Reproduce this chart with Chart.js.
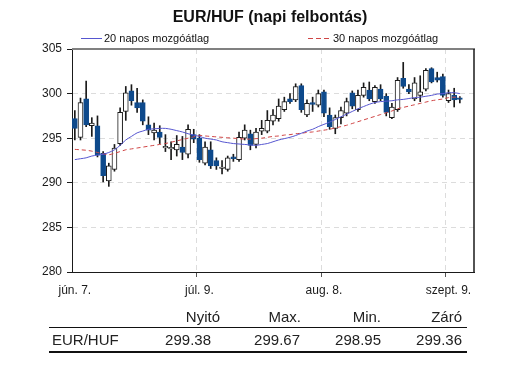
<!DOCTYPE html>
<html><head><meta charset="utf-8">
<script src="https://cdn.jsdelivr.net/npm/chart.js@4.4.1/dist/chart.umd.min.js"></script>
<style>
html,body{margin:0;padding:0;background:#fff;}
#wrap{position:relative;width:512px;height:382px;overflow:hidden;font-family:"Liberation Sans",Arial,sans-serif;color:#111;}
#c{position:absolute;left:0;top:0;}
.t{position:absolute;white-space:nowrap;}
</style></head><body>
<div id="wrap">
<canvas id="c" width="512" height="382"></canvas>
<div class="t" style="left:0;width:540px;top:8px;text-align:center;font-weight:bold;font-size:16px;">EUR/HUF (napi felbontás)</div>
<svg style="position:absolute;left:0;top:0" width="512" height="60">
  <line x1="81" y1="38.5" x2="102" y2="38.5" stroke="#5656d0" stroke-width="1"/>
  <line x1="308" y1="38.5" x2="330" y2="38.5" stroke="#d04545" stroke-width="1" stroke-dasharray="5,3"/>
</svg>
<div class="t" id="lg1" style="left:104px;top:32px;font-size:11px;line-height:13px;"></div>
<div class="t" id="lg2" style="left:333px;top:32px;font-size:11px;line-height:13px;"></div>
<div id="tbl"></div>
</div>
<script>
// ---- data ----
const categories = ["jún. 7.","jún. 10.","jún. 11.","jún. 12.","jún. 13.","jún. 14.","jún. 17.","jún. 18.","jún. 19.","jún. 20.","jún. 21.","jún. 24.","jún. 25.","jún. 26.","jún. 27.","jún. 28.",
"júl. 1.","júl. 2.","júl. 3.","júl. 4.","júl. 5.","júl. 8.","júl. 9.","júl. 10.","júl. 11.","júl. 12.","júl. 15.","júl. 16.","júl. 17.","júl. 18.","júl. 19.","júl. 22.","júl. 23.","júl. 24.","júl. 25.","júl. 26.","júl. 29.","júl. 30.","júl. 31.",
"aug. 1.","aug. 2.","aug. 5.","aug. 6.","aug. 7.","aug. 8.","aug. 9.","aug. 12.","aug. 13.","aug. 14.","aug. 15.","aug. 16.","aug. 19.","aug. 20.","aug. 21.","aug. 22.","aug. 23.","aug. 26.","aug. 27.","aug. 28.","aug. 29.","aug. 30.",
"szept. 2.","szept. 3.","szept. 4.","szept. 5.","szept. 6.","szept. 9.","szept. 10.","szept. 11.","szept. 12.","szept. 13."];
const labeledTicks = [0, 22, 44, 66];
const yTicks = [280, 285, 290, 295, 300, 305];

const open  = [297.2,295.1,299.4,296.4,296.4,293.3,290.2,291.5,294.4,298.0,300.3,299.0,299.0,296.5,295.6,295.7,293.9,293.8,293.7,294.0,293.2,295.4,295.0,292.2,293.7,292.5,291.6,291.5,292.9,292.6,295.0,295.5,294.3,295.8,295.8,296.9,297.2,298.2,299.4,299.3,300.9,297.6,299.0,298.7,300.2,297.6,296.1,297.3,297.8,300.1,298.2,299.8,300.4,299.1,300.5,299.7,297.3,298.2,301.7,300.5,299.4,299.8,300.5,302.8,301.8,301.9,299.2,299.8,299.38];
const high  = [298.1,299.5,301.4,297.3,297.5,293.5,292.2,294.3,298.4,300.8,301.0,300.6,299.3,297.4,296.7,296.4,295.4,294.6,295.3,295.2,296.5,296.0,295.4,294.6,294.6,292.8,292.5,293.0,293.2,295.7,296.5,295.9,296.1,297.0,298.1,298.2,299.4,299.6,300.0,301.1,301.1,299.3,299.6,300.4,300.4,298.4,297.6,298.5,299.5,300.3,300.4,301.2,301.3,300.9,301.0,300.0,298.9,301.8,303.5,301.0,301.8,302.0,302.8,302.9,302.4,302.2,300.4,300.6,299.67];
const low   = [294.8,294.8,296.3,295.2,292.9,290.1,289.6,291.3,294.2,297.0,298.7,297.9,296.5,295.4,294.8,294.4,293.5,292.6,293.0,292.6,292.8,294.5,292.3,292.0,291.6,291.5,291.0,291.3,292.4,292.4,294.8,293.7,293.9,295.4,295.6,296.5,296.9,298.0,298.9,299.1,297.9,297.4,298.0,298.5,297.4,296.0,295.5,296.6,297.5,298.3,298.0,299.6,299.2,298.9,299.2,297.5,297.2,298.0,300.6,300.0,299.2,299.1,300.3,301.2,301.3,299.6,299.0,298.5,298.95];
const close = [296.1,299.0,296.5,296.7,293.1,290.8,291.9,293.9,297.9,300.1,299.2,298.4,296.9,295.9,295.9,295.1,294.1,293.9,294.3,293.4,296.0,294.9,292.6,294.0,291.9,291.9,291.7,292.8,292.7,295.1,295.9,294.2,295.7,296.1,297.0,297.6,298.6,299.1,299.1,300.8,298.2,298.9,298.8,300.0,297.8,296.3,297.3,298.1,299.1,298.6,299.8,300.7,299.4,300.7,299.4,297.9,298.5,301.5,300.8,300.2,301.2,300.2,302.6,301.3,301.5,299.8,300.0,299.3,299.36];
const ma20 = [292.6,292.7,292.8,293.0,293.1,293.2,293.4,293.7,294.2,294.8,295.2,295.6,295.8,296.0,296.05,296.1,296.1,296.0,295.85,295.7,295.5,295.35,295.2,295.0,294.9,294.8,294.6,294.5,294.4,294.35,294.3,294.25,294.2,294.3,294.4,294.6,294.8,294.95,295.1,295.3,295.55,295.8,296.0,296.3,296.55,296.8,297.1,297.4,297.7,298.0,298.3,298.55,298.8,299.0,299.1,299.15,299.2,299.3,299.35,299.45,299.55,299.6,299.7,299.8,299.95,300.0,300.1,300.1,300.0];
const ma30 = [293.75,293.7,293.65,293.55,293.4,293.25,293.15,293.3,293.5,293.7,293.8,293.9,294.0,294.1,294.2,294.3,294.4,294.55,294.7,294.85,295.0,295.15,295.3,295.25,295.2,295.15,295.1,295.05,295.0,294.95,294.9,294.9,294.95,295.0,295.1,295.2,295.25,295.35,295.4,295.5,295.55,295.65,295.7,295.8,295.9,296.0,296.15,296.3,296.45,296.65,296.85,297.05,297.25,297.45,297.65,297.85,298.05,298.3,298.45,298.6,298.75,298.9,299.05,299.2,299.3,299.4,299.55,299.6,299.6];
const seriesNames = ["20 napos mozgóátlag", "30 napos mozgóátlag"];
const tableHead = ["Nyitó", "Max.", "Min.", "Záró"];
const tableRowName = "EUR/HUF";

// ---- styling ----
const BLUE = '#0e4a8c', MA20C = '#5656d0', MA30C = '#d04545', INK = '#1a1a1a';
const GRID = '#dcdcdc';
const body = open.map((o, i) => [Math.min(o, close[i]), Math.max(o, close[i])]);
const wick = low.map((l, i) => [l, high[i]]);
const down = open.map((o, i) => close[i] < o);

document.getElementById('lg1').textContent = seriesNames[0];
document.getElementById('lg2').textContent = seriesNames[1];

// table
(function(){
  const last = open.length - 1;
  const vals = [open[last], high[last], low[last], close[last]].map(v => v.toFixed(2));
  const headRight = [220, 301, 381, 462];
  const valRight = [211, 300, 381, 462];
  let h = '';
  tableHead.forEach((t, k) => {
    h += `<div class="t" style="right:${512 - headRight[k]}px;top:308px;font-size:15px;line-height:17px;color:#222">${t}</div>`;
    h += `<div class="t" style="right:${512 - valRight[k]}px;top:331px;font-size:15px;line-height:17px;color:#222">${vals[k]}</div>`;
  });
  h += `<div class="t" style="left:52px;top:331px;font-size:15px;line-height:17px;color:#222">${tableRowName}</div>`;
  h += `<div style="position:absolute;left:49px;top:327px;width:418px;height:1px;background:#111"></div>`;
  h += `<div style="position:absolute;left:49px;top:351px;width:418px;height:2px;background:#111"></div>`;
  document.getElementById('tbl').innerHTML = h;
})();

const frame = {
  id: 'frame',
  afterDatasetsDraw(chart) {
    const a = chart.chartArea, c = chart.ctx;
    c.save();
    c.strokeStyle = '#808080'; c.lineWidth = 2;
    c.beginPath(); c.moveTo(a.left, a.top); c.lineTo(a.right + 1, a.top); c.stroke();
    c.strokeStyle = INK; c.lineWidth = 1.5;
    c.beginPath(); c.moveTo(a.right, a.top); c.lineTo(a.right, a.bottom); c.stroke();
    c.restore();
  }
};

new Chart(document.getElementById('c'), {
  type: 'bar',
  data: {
    labels: categories,
    datasets: [
      { type: 'line', label: seriesNames[0], data: ma20, borderColor: MA20C, borderWidth: 1, pointRadius: 0, tension: 0.3, order: 0 },
      { type: 'line', label: seriesNames[1], data: ma30, borderColor: MA30C, borderWidth: 1, borderDash: [4, 3], pointRadius: 0, tension: 0.3, order: 0 },
      { label: 'body', data: body, grouped: false, barThickness: 5, minBarLength: 1.5, borderWidth: 1, borderSkipped: false,
        backgroundColor: down.map(d => d ? BLUE : '#ffffff'), borderColor: down.map(d => d ? BLUE : INK), order: 1 },
      { label: 'wick', data: wick, grouped: false, barThickness: 1, borderWidth: 0, backgroundColor: INK, order: 2 }
    ]
  },
  options: {
    responsive: false, animation: false,
    layout: { padding: { top: 49, right: 38, bottom: 0, left: 0 } },
    plugins: { legend: { display: false }, tooltip: { enabled: false }, title: { display: false } },
    scales: {
      x: {
        offset: true,
        afterFit: s => { s.height = 110; },
        grid: {
          offset: true, lineWidth: 1, tickLength: 5,
          color: c => labeledTicks.includes(c.index) && c.index !== 0 ? GRID : 'rgba(0,0,0,0)',
          tickColor: c => labeledTicks.includes(c.index) && c.index !== 0 ? '#555' : 'rgba(0,0,0,0)'
        },
        border: { display: true, color: INK, width: 1, dash: [5, 4] },
        ticks: {
          autoSkip: false, maxRotation: 0, padding: 6, color: INK,
          font: { family: '"Liberation Sans", Arial', size: 12 },
          callback: (v, i) => labeledTicks.includes(i) ? categories[i] : ''
        }
      },
      y: {
        min: yTicks[0], max: yTicks[yTicks.length - 1],
        afterFit: s => { s.width = 72; },
        afterBuildTicks: s => { s.ticks = yTicks.map(v => ({ value: v })); },
        grid: {
          lineWidth: 1, tickLength: 5, tickColor: INK,
          color: c => (c.tick && (c.tick.value === yTicks[0] || c.tick.value === yTicks[yTicks.length - 1])) ? 'rgba(0,0,0,0)' : GRID
        },
        border: { display: true, color: INK, width: 1, dash: [5, 4] },
        ticks: { padding: 5, color: INK, font: { family: '"Liberation Sans", Arial', size: 12 } }
      }
    }
  },
  plugins: [frame]
});
</script>
</body></html>
